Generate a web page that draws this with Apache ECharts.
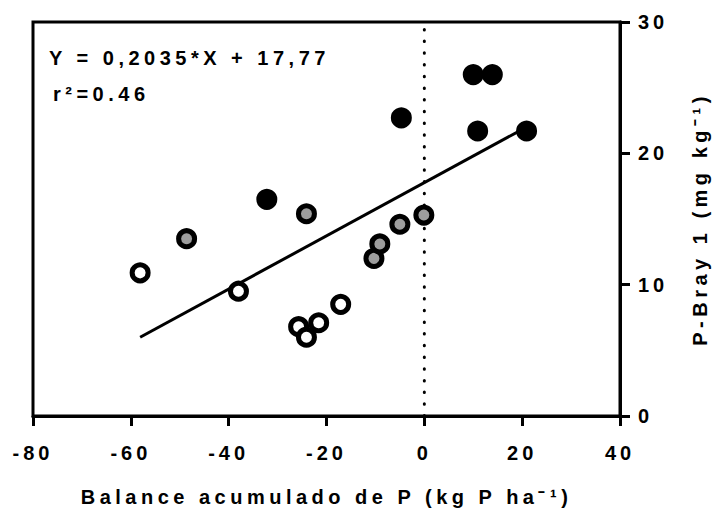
<!DOCTYPE html>
<html><head><meta charset="utf-8">
<script src="https://cdn.jsdelivr.net/npm/echarts@6/dist/echarts.min.js"></script>
<style>
html,body{margin:0;padding:0;background:#fff}
#c{width:723px;height:512px}
#c svg text{letter-spacing:4px}
</style></head><body><div id="c"></div>
<script>
// Data
const openX  = [-58.1, -38.0, -25.7, -24.1, -21.6, -17.1];
const openY  = [10.9, 9.5, 6.8, 6.0, 7.1, 8.5];
const greyX  = [-48.6, -24.1, -10.3, -9.1, -5.0, -0.1];
const greyY  = [13.5, 15.4, 12.0, 13.1, 14.6, 15.3];
const blackX = [-32.2, -4.7, 10.0, 13.9, 10.9, 20.9];
const blackY = [16.5, 22.7, 26.0, 26.0, 21.7, 21.7];
const fitX   = [-58.1, 20.9];
const fitY   = [6.0, 22.0];
const zeroX  = [0, 0];
const zeroY  = [0, 30];
const xTicks = [-80, -60, -40, -20, 0, 20, 40];
const yTicks = [0, 10, 20, 30];
const slopeText = '0,2035';
const interceptText = '17,77';
const r2Text = '0.46';
const xTitle = 'Balance acumulado de P (kg P ha\u207B\u00B9)';
const yTitle = 'P-Bray 1 (mg kg\u207B\u00B9)';
const eqText = 'Y = ' + slopeText + '*X + ' + interceptText;
const rText = 'r\u00B2=' + r2Text;

const zip = (a, b) => a.map((v, i) => [v, b[i]]);
const FONT = '"Liberation Sans", Arial, sans-serif';
const lbl = { color: '#000', fontFamily: FONT, fontWeight: 'bold', fontSize: 20 };

const chart = echarts.init(document.getElementById('c'), null, { renderer: 'svg' });
chart.setOption({
  animation: false,
  backgroundColor: '#fff',
  grid: { left: 33, right: 103, top: 22, bottom: 96, show: true, borderColor: '#000', borderWidth: 3, backgroundColor: 'transparent' },
  xAxis: {
    type: 'value', min: xTicks[0], max: xTicks[xTicks.length - 1], interval: xTicks[1] - xTicks[0],
    axisLine: { onZero: false, lineStyle: { color: '#000', width: 3 } },
    axisTick: { show: true, inside: false, length: 10, lineStyle: { color: '#000', width: 3 } },
    splitLine: { show: false },
    axisLabel: Object.assign({ margin: 27 }, lbl),
    name: xTitle, nameLocation: 'middle', nameGap: 71,
    nameTextStyle: Object.assign({}, lbl)
  },
  yAxis: {
    type: 'value', position: 'right', min: yTicks[0], max: yTicks[yTicks.length - 1], interval: yTicks[1] - yTicks[0],
    axisLine: { onZero: false, lineStyle: { color: '#000', width: 3 } },
    axisTick: { show: true, inside: false, length: 10, lineStyle: { color: '#000', width: 3 } },
    splitLine: { show: false },
    axisLabel: Object.assign({ margin: 18 }, lbl),
    name: yTitle, nameLocation: 'middle', nameGap: 70, nameRotate: 90,
    nameTextStyle: Object.assign({}, lbl)
  },
  graphic: [
    { type: 'text', x: 49, y: 58, silent: true,
      style: { text: eqText, fill: '#000', font: 'bold 20px ' + FONT, verticalAlign: 'middle', align: 'left' } },
    { type: 'text', x: 53, y: 94, silent: true,
      style: { text: rText, fill: '#000', font: 'bold 20px ' + FONT, verticalAlign: 'middle', align: 'left' } }
  ],
  series: [
    { type: 'line', z: 1, data: zip(zeroX, zeroY), symbol: 'none', silent: true,
      lineStyle: { color: '#000', width: 3, type: [0.5, 11.2], cap: 'round' } },
    { type: 'line', z: 2, data: zip(fitX, fitY), symbol: 'none', silent: true,
      lineStyle: { color: '#000', width: 3 } },
    { type: 'scatter', z: 5, data: zip(openX, openY), symbol: 'circle', symbolSize: 16, silent: true,
      itemStyle: { color: '#fff', borderColor: '#000', borderWidth: 5, opacity: 1 } },
    { type: 'scatter', z: 5, data: zip(greyX, greyY), symbol: 'circle', symbolSize: 16, silent: true,
      itemStyle: { color: '#9d9d9d', borderColor: '#000', borderWidth: 5, opacity: 1 } },
    { type: 'scatter', z: 5, data: zip(blackX, blackY), symbol: 'circle', symbolSize: 16, silent: true,
      itemStyle: { color: '#000', borderColor: '#000', borderWidth: 5, opacity: 1 } }
  ]
});
// wider tracking for the titles and the equation, as in the reference
document.querySelectorAll('#c svg text').forEach(function (t) {
  const s = t.textContent;
  if (s === xTitle || s === yTitle || s === eqText || s === rText) t.style.letterSpacing = '4.5px';
});
</script></body></html>
